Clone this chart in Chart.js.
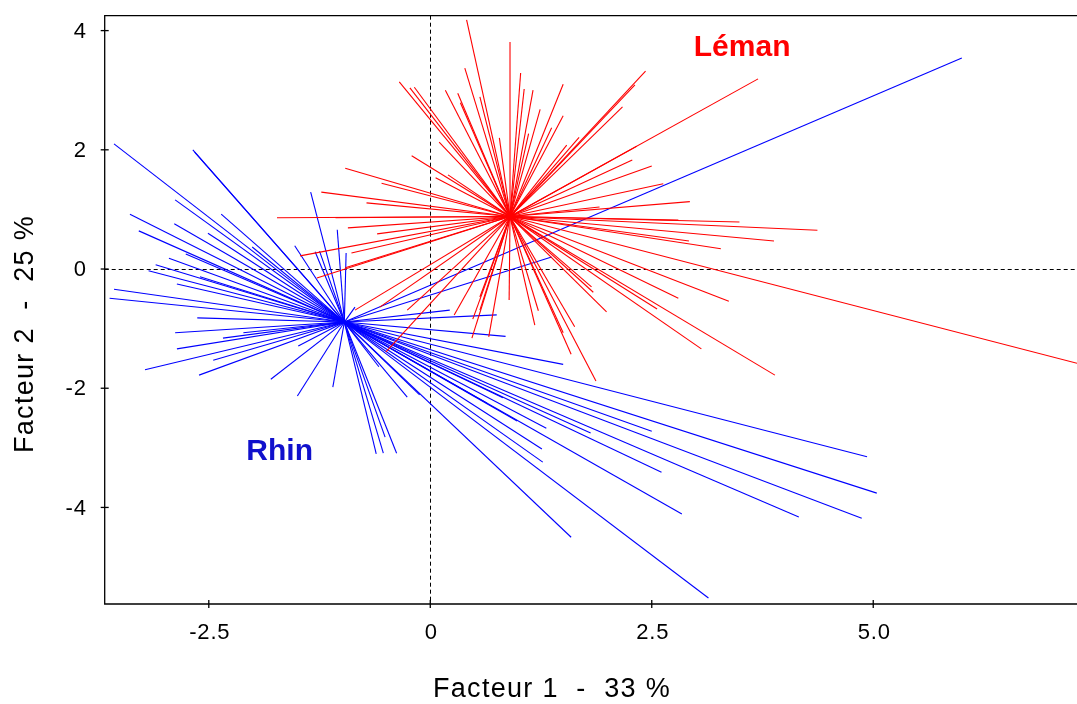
<!DOCTYPE html>
<html><head><meta charset="utf-8">
<script src="https://cdn.jsdelivr.net/npm/chart.js@4.4.1/dist/chart.umd.min.js"></script>
<style>html,body{margin:0;padding:0;background:#fff;}#wrap{width:1077px;height:704px;position:relative;}</style>
</head><body><div id="wrap"><canvas id="c" width="1077" height="704"></canvas></div>
<script>
// ---- data (factor scores) ----
const groups = ['Léman', 'Rhin'];
const rhinCenter = [-0.97, -0.89];
const lemanCenter = [0.90, 0.88];

const rhinX = [-3.57,-2.68,-2.66,-2.88,-3.39,-3.29,-2.89,-2.36,-2.51,-2.95,-3.10,-3.18,-2.86,-2.76,-3.57,-3.62,-2.63,
  -1.35,-1.53,-1.05,-0.95,-1.25,-1.30,-2.01,-2.60,-2.88,-2.86,-3.22,-2.61,-2.45,-2.34,-2.11,-1.49,-1.80,-1.50,-1.10,
  -0.85,-0.61,-0.53,-0.38,-0.51,-0.26,0.22,0.75,0.85,1.50,4.93,5.04,4.87,4.16,2.84,2.61,2.50,1.81,1.31,1.26,1.27,
  1.59,3.14,0.98,0.64,0.82,-0.12,6.00,1.37,-0.58];
const rhinY = [2.10,2.00,1.96,1.16,0.92,0.64,0.76,0.92,0.60,0.18,0.07,-0.03,-0.25,0.25,-0.34,-0.49,-0.82,
  1.29,0.39,0.66,0.27,0.30,0.29,0.37,-0.13,-1.07,-1.34,-1.69,-1.78,-1.53,-1.16,-1.07,-1.29,-1.85,-2.13,-1.98,
  -0.64,-3.10,-3.09,-3.09,-2.82,-2.15,-0.69,-0.77,-1.13,-1.60,-3.15,-3.76,-4.18,-4.16,-4.11,-3.41,-2.72,-2.75,-2.67,-3.02,-3.24,
  -4.50,-5.52,-2.55,-2.25,-2.16,-2.11,3.54,0.20,-1.64];

const lemanX = [0.41,0.90,1.02,0.39,-0.35,-0.23,-0.18,0.17,0.31,0.56,0.34,1.16,1.24,0.78,0.10,-0.21,-0.96,-1.23,-0.55,-0.72,
  0.20,0.06,-1.73,-1.07,-0.93,-0.60,-1.47,-0.89,-1.28,-0.50,-0.85,0.47,0.66,0.48,0.27,1.18,1.59,1.87,1.63,0.89,1.22,
  1.50,1.99,1.82,1.84,2.56,3.06,3.89,2.80,3.37,7.30,3.28,3.88,4.37,2.92,3.49,2.80,2.93,1.91,1.06,1.50,1.50,2.43,2.31,
  2.17,3.70,2.33,2.28,2.50,2.63,1.68,1.37,1.11,1.54,0.56,0.56,-0.96,-0.57,-0.26];
const lemanY = [4.18,3.81,3.29,3.37,3.14,3.04,3.05,3.00,2.95,2.89,2.79,3.00,2.68,2.20,2.13,1.90,1.69,1.29,1.44,1.11,
  1.58,1.53,0.86,0.86,0.69,0.59,0.22,0.27,-0.15,-1.39,-0.69,-1.16,-1.14,-0.84,-0.77,-0.94,-1.43,-1.88,-0.97,-0.52,-0.70,
  -1.07,-0.72,-0.30,-0.39,-0.67,-1.34,-1.78,-0.49,-0.54,-1.58,0.34,0.47,0.65,0.47,0.79,0.82,1.13,1.04,3.02,3.10,2.57,3.32,3.09,
  2.72,3.19,2.06,1.83,1.73,1.43,2.21,2.37,2.27,2.08,-0.69,-0.47,0.02,-0.64,-0.69];

const xTicks = [-2.5, 0, 2.5, 5.0];
const xTickLabels = ['-2.5', '0', '2.5', '5.0'];
const yTicks = [4, 2, 0, -2, -4];
const yTickLabels = ['4', '2', '0', '-2', '-4'];
const xTitle = 'Facteur 1  -  33 %';
const yTitle = 'Facteur 2  -  25 %';

// ---- build datasets ----
const RED = '#ff0000', BLUE = '#0000ff';
const datasets = [];
lemanX.forEach((x, i) => datasets.push({
  data: [{x: lemanCenter[0], y: lemanCenter[1]}, {x: x, y: lemanY[i]}],
  showLine: true, borderColor: RED, borderWidth: 1.1, pointRadius: 0, fill: false
}));
rhinX.forEach((x, i) => datasets.push({
  data: [{x: rhinCenter[0], y: rhinCenter[1]}, {x: x, y: rhinY[i]}],
  showLine: true, borderColor: BLUE, borderWidth: 1.1, pointRadius: 0, fill: false
}));

const FONT = '"Liberation Sans", Arial, Helvetica, sans-serif';

const decor = {
  id: 'decor',
  beforeDatasetsDraw(chart) {
    const {ctx, chartArea: a, scales: {x, y}} = chart;
    ctx.save();
    ctx.beginPath(); ctx.rect(a.left, a.top, a.right - a.left, a.bottom - a.top); ctx.clip();
    ctx.strokeStyle = '#000'; ctx.lineWidth = 1; ctx.setLineDash([4, 3]);
    const px0 = Math.round(x.getPixelForValue(0)) + 0.5;
    const py0 = Math.round(y.getPixelForValue(0)) + 0.5;
    ctx.beginPath(); ctx.moveTo(px0, a.top); ctx.lineTo(px0, a.bottom); ctx.stroke();
    ctx.beginPath(); ctx.moveTo(a.left, py0); ctx.lineTo(a.right, py0); ctx.stroke();
    ctx.restore();
  },
  afterDatasetsDraw(chart) {
    const {ctx, chartArea: a, scales: {x, y}} = chart;
    ctx.save();
    ctx.setLineDash([]);
    ctx.strokeStyle = '#000'; ctx.lineWidth = 1.3;
    ctx.beginPath();
    ctx.moveTo(a.right, a.top); ctx.lineTo(a.left, a.top); ctx.lineTo(a.left, a.bottom); ctx.lineTo(a.right, a.bottom);
    ctx.stroke();
    xTicks.forEach(v => {
      const p = x.getPixelForValue(v);
      ctx.beginPath(); ctx.moveTo(p, a.bottom - 4); ctx.lineTo(p, a.bottom + 4); ctx.stroke();
    });
    yTicks.forEach(v => {
      const p = y.getPixelForValue(v);
      ctx.beginPath(); ctx.moveTo(a.left - 4, p); ctx.lineTo(a.left + 4, p); ctx.stroke();
    });
    ctx.fillStyle = '#000';
    ctx.font = '22px ' + FONT;
    ctx.letterSpacing = '0.8px';
    ctx.textAlign = 'center'; ctx.textBaseline = 'middle';
    xTicks.forEach((v, i) => ctx.fillText(xTickLabels[i], x.getPixelForValue(v) + 1, a.bottom + 29));
    ctx.textAlign = 'right';
    yTicks.forEach((v, i) => ctx.fillText(yTickLabels[i], a.left - 18, y.getPixelForValue(v) + 1));
    ctx.font = '27px ' + FONT;
    ctx.letterSpacing = '1.3px';
    ctx.textAlign = 'center';
    ctx.fillText(xTitle, 552, 690);
    ctx.save();
    ctx.translate(26, 334); ctx.rotate(-Math.PI / 2);
    ctx.fillText(yTitle, 0, 0);
    ctx.restore();
    ctx.letterSpacing = '0px';
    ctx.font = 'bold 30px ' + FONT;
    ctx.fillStyle = '#ff0000';
    ctx.fillText(groups[0], x.getPixelForValue(3.52), y.getPixelForValue(3.72));
    ctx.fillStyle = '#1010cc';
    ctx.fillText(groups[1], x.getPixelForValue(-1.70), y.getPixelForValue(-3.07));
    ctx.restore();
  }
};

new Chart(document.getElementById('c'), {
  type: 'scatter',
  data: { datasets },
  options: {
    responsive: false, animation: false, devicePixelRatio: 1,
    layout: { padding: { left: 104.7, top: 15.7, right: 0, bottom: 100 } },
    plugins: { legend: { display: false }, tooltip: { enabled: false } },
    scales: {
      x: { type: 'linear', min: -3.675, max: 7.30, display: false },
      y: { type: 'linear', min: -5.62, max: 4.25, display: false }
    }
  },
  plugins: [decor]
});
</script>
</body></html>
